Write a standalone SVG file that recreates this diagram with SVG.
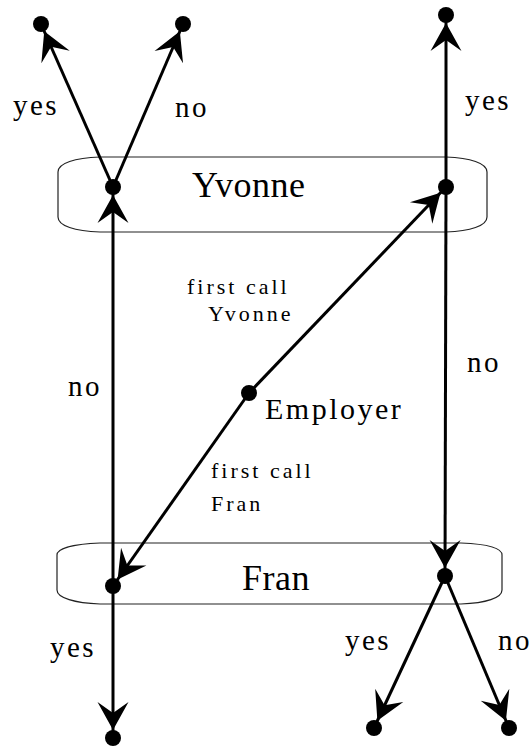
<svg xmlns="http://www.w3.org/2000/svg" width="532" height="747" viewBox="0 0 532 747">
<style>
.box{fill:none;stroke:#222;stroke-width:1.2}
.edge{stroke:#000;stroke-width:3;fill:none;marker-end:url(#ah)}
.dot{fill:#000}
.big{font-family:"Liberation Serif","Times New Roman",serif;font-size:36px;letter-spacing:0.5px;fill:#000}
.mid{font-family:"Liberation Serif","Times New Roman",serif;font-size:30px;letter-spacing:2.5px;fill:#000}
.sm{font-family:"Liberation Serif","Times New Roman",serif;font-size:22px;letter-spacing:3px;fill:#000}
.lab{font-family:"Liberation Serif","Times New Roman",serif;font-size:29px;letter-spacing:2.5px;fill:#000}
</style>
<defs>
<marker id="ah" markerUnits="userSpaceOnUse" viewBox="-30 -20 40 40" markerWidth="40" markerHeight="40" refX="8" refY="0" orient="auto">
<path d="M0,0 L-28,-15.5 L-17,0 L-28,15.5 Z" fill="#000"/>
</marker>
</defs>
<g id="yvonne">
<path class="box" d="M100,157 H446 C470,158 487,163 487,172 V217 C487,226 470,231 446,232 H100 C75,231 58,226 58,217 V172 C58,163 75,158 100,157 Z"/>
<text class="big" x="192" y="197">Yvonne</text>
</g>
<g id="fran">
<path class="box" d="M100,543 H461 C486,544 502,548 502,555 V590 C502,598 486,603 461,604 H100 C75,603 57,598 57,590 V555 C57,548 75,544 100,543 Z"/>
<text class="big" x="242" y="590">Fran</text>
</g>
<g id="employer">
<circle class="dot" cx="249" cy="393" r="8"/>
<text class="mid" x="265" y="419">Employer</text>
</g>
<g id="connectors">
<line class="edge" x1="113" y1="187" x2="41" y2="24"/>
<line class="edge" x1="113" y1="187" x2="183" y2="24"/>
<line class="edge" x1="446" y1="187" x2="446" y2="15"/>
<line class="edge" x1="113" y1="586" x2="113" y2="187"/>
<line class="edge" x1="249" y1="393" x2="446" y2="187"/>
<line class="edge" x1="249" y1="393" x2="113" y2="586"/>
<line class="edge" x1="446" y1="187" x2="445" y2="576"/>
<line class="edge" x1="113" y1="586" x2="113" y2="738"/>
<line class="edge" x1="445" y1="576" x2="374" y2="728"/>
<line class="edge" x1="445" y1="576" x2="509" y2="728"/>
</g>
<g id="dots">
<circle class="dot" cx="113" cy="187" r="8"/>
<circle class="dot" cx="446" cy="187" r="8"/>
<circle class="dot" cx="113" cy="586" r="8"/>
<circle class="dot" cx="445" cy="576" r="8"/>
<circle class="dot" cx="41" cy="24" r="8"/>
<circle class="dot" cx="183" cy="24" r="8"/>
<circle class="dot" cx="446" cy="15" r="8"/>
<circle class="dot" cx="113" cy="738" r="8"/>
<circle class="dot" cx="374" cy="728" r="8"/>
<circle class="dot" cx="509" cy="728" r="8"/>
</g>
<g id="labels">
<text class="lab" x="13" y="115">yes</text>
<text class="lab" x="175" y="117">no</text>
<text class="lab" x="465" y="110">yes</text>
<text class="sm" x="187" y="294">first call</text>
<text class="sm" x="208" y="321">Yvonne</text>
<text class="lab" x="68" y="396">no</text>
<text class="lab" x="467" y="372">no</text>
<text class="sm" x="211" y="478">first call</text>
<text class="sm" x="211" y="511">Fran</text>
<text class="lab" x="50" y="657">yes</text>
<text class="lab" x="345" y="650">yes</text>
<text class="lab" x="498" y="650">no</text>
</g>
</svg>
